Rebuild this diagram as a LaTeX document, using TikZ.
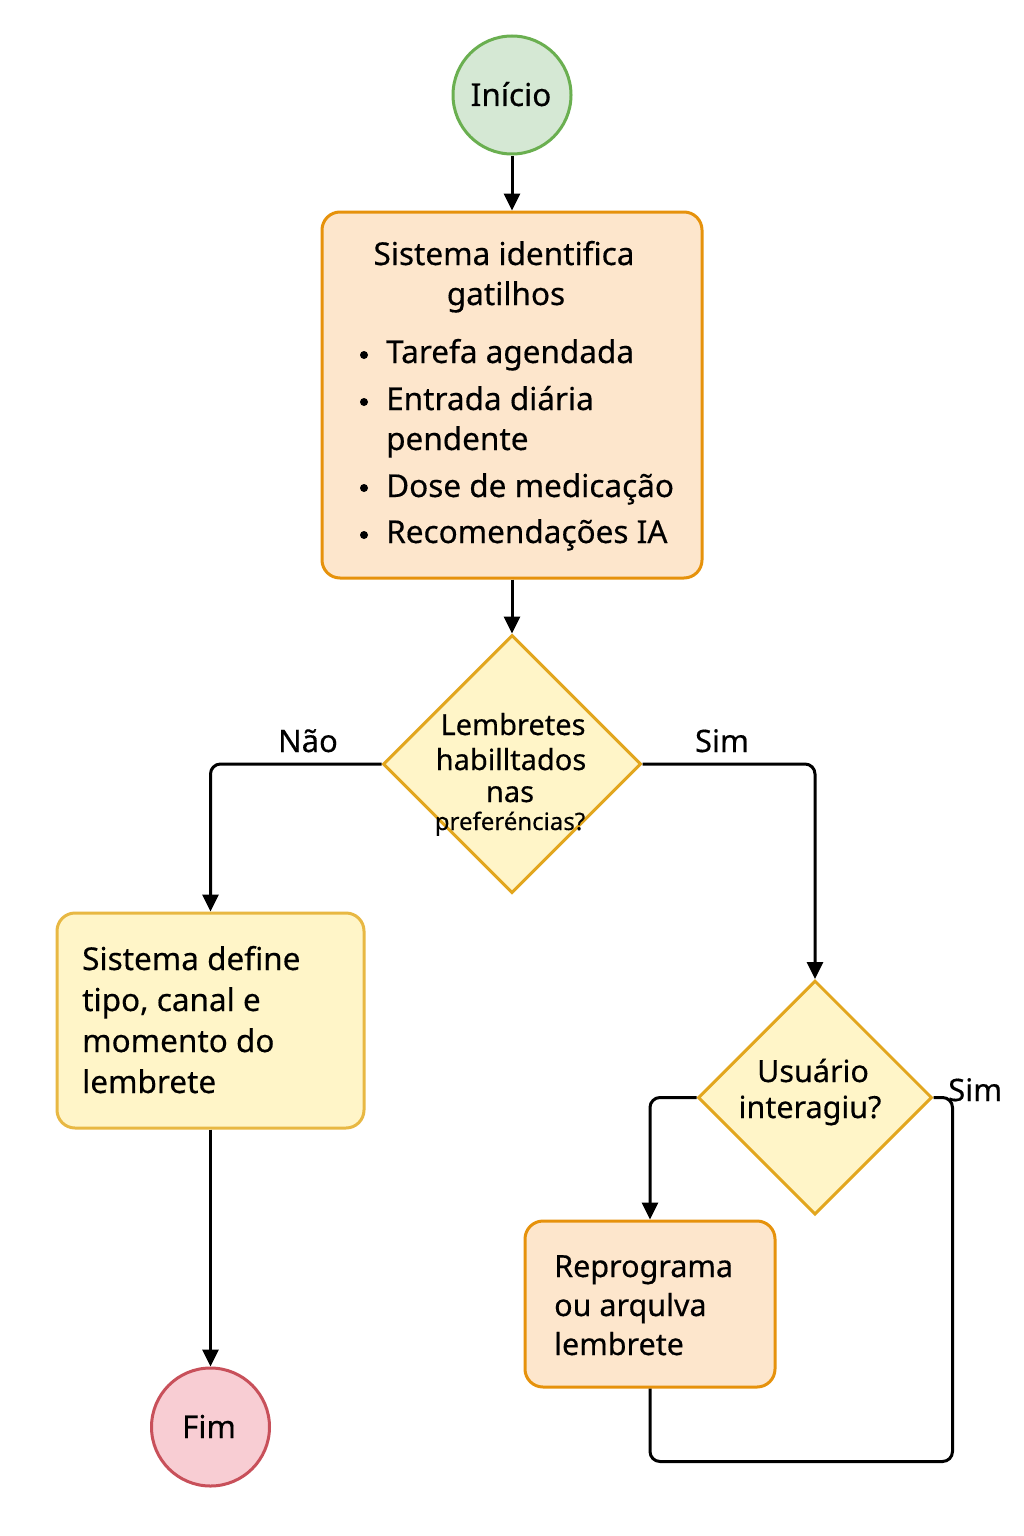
\documentclass[tikz,border=0pt]{standalone}
\usepackage{fontspec}
\setmainfont[FakeBold=0.4]{Noto Sans}
\usetikzlibrary{shapes.geometric,arrows.meta}
\definecolor{startfill}{HTML}{D5E8D4}
\definecolor{startdraw}{HTML}{6AAF50}
\definecolor{orfill}{HTML}{FDE6CC}
\definecolor{ordraw}{HTML}{E6920C}
\definecolor{yefill}{HTML}{FFF5C8}
\definecolor{yedraw}{HTML}{E2A61E}
\definecolor{ye2draw}{HTML}{E8B843}
\definecolor{endfill}{HTML}{F8CDD3}
\definecolor{enddraw}{HTML}{C8505A}
\begin{document}
\begin{tikzpicture}[x=1pt,y=-1pt,
  conn/.style={draw=black,line width=3pt,rounded corners=10pt},
  arr/.style={conn,-{Triangle[length=17pt,width=16pt]}},
  txt/.style={font=\fontsize{31.5}{36}\selectfont,inner sep=0pt,anchor=base},
  ltxt/.style={txt,anchor=base west},
  stxt/.style={font=\fontsize{29}{34}\selectfont,inner sep=0pt,anchor=base},
  dtxt/.style={font=\fontsize{30.5}{34}\selectfont,inner sep=0pt,anchor=base},
  labtxt/.style={font=\fontsize{31}{34}\selectfont,inner sep=0pt,anchor=base},
  dot/.style={circle,fill=black,inner sep=0pt,minimum size=8pt},
  procbox/.style={rectangle,rounded corners=18pt,line width=3pt,inner sep=0pt},
  decbox/.style={diamond,line width=3pt,inner sep=0pt,fill=yefill,draw=yedraw},
  term/.style={circle,line width=3pt,inner sep=0pt,minimum size=118pt}]
\useasboundingbox (0,0) rectangle (1024,1536);
\fill[white] (0,0) rectangle (1024,1536);

% nodes
\node[term,fill=startfill,draw=startdraw] (ini) at (512,95) {};
\node[txt] (initxt) at (511,106) {Início};

\node[procbox,fill=orfill,draw=ordraw,minimum width=380pt,minimum height=366pt] (b1) at (512,395) {};
\node[txt] (b1t1) at (504,265) {Sistema identifica};
\node[txt] (b1t2) at (506,305) {gatilhos};
\node[dot] (bu1) at (364,355) {};
\node[ltxt] (l1) at (386,363) {Tarefa agendada};
\node[dot] (bu2) at (364,402) {};
\node[ltxt] (l2) at (386,410) {Entrada diária};
\node[ltxt] (l2b) at (386,450) {pendente};
\node[dot] (bu3) at (364,488) {};
\node[ltxt] (l3) at (386,497) {Dose de medicação};
\node[dot] (bu4) at (364,535) {};
\node[ltxt] (l4) at (386,543) {Recomendações IA};

\node[decbox,minimum width=258pt,minimum height=258pt] (d1) at (512,764) {};
\node[stxt] (d1t1) at (513,735) {Lembretes};
\node[stxt] (d1t2) at (511,770) {habilltados};
\node[stxt] (d1t3) at (510,802) {nas};
\node[font=\fontsize{24}{28}\selectfont,inner sep=0pt,anchor=base] (d1t4) at (510,830) {preferéncias?};

\node[procbox,fill=yefill,draw=ye2draw,minimum width=307pt,minimum height=215pt] (b2) at (210.5,1020.5) {};
\node[ltxt] (b2t1) at (82,970) {Sistema define};
\node[ltxt] (b2t2) at (82,1011) {tipo, canal e};
\node[ltxt] (b2t3) at (82,1052) {momento do};
\node[ltxt] (b2t4) at (82,1093) {lembrete};

\node[term,fill=endfill,draw=enddraw] (fim) at (210.5,1427) {};
\node[txt] (fimtxt) at (209,1438) {Fim};

\node[decbox,minimum width=234pt,minimum height=234pt] (d2) at (815,1097.5) {};
\node[dtxt] (d2t1) at (813,1082) {Usuário};
\node[dtxt] (d2t2) at (810,1118) {interagiu?};

\node[procbox,fill=orfill,draw=ordraw,minimum width=250pt,minimum height=166pt] (b3) at (650,1304) {};
\node[ltxt,font=\fontsize{30.5}{34}\selectfont] (b3t1) at (554,1277) {Reprograma};
\node[ltxt,font=\fontsize{30.5}{34}\selectfont] (b3t2) at (554,1316) {ou arqulva};
\node[ltxt,font=\fontsize{30.5}{34}\selectfont] (b3t3) at (554,1355) {lembrete};

% labels
\node[labtxt] (nao) at (308,752) {Não};
\node[labtxt] (sim1) at (722,752) {Sim};
\node[labtxt,anchor=base west] (sim2) at (948,1101) {Sim};

% connectors
\draw[arr] (ini) -- (b1);
\draw[arr] (b1) -- (d1);
\draw[arr] (d1.west) -| (b2.north);
\draw[arr] (d1.east) -| (d2.north);
\draw[arr] (b2) -- (fim);
\draw[arr] (d2.west) -| (b3.north);
\draw[conn] (d2.east) -- ++(19,0) -- ++(0,364) -| (b3.south);
\end{tikzpicture}
\end{document}
